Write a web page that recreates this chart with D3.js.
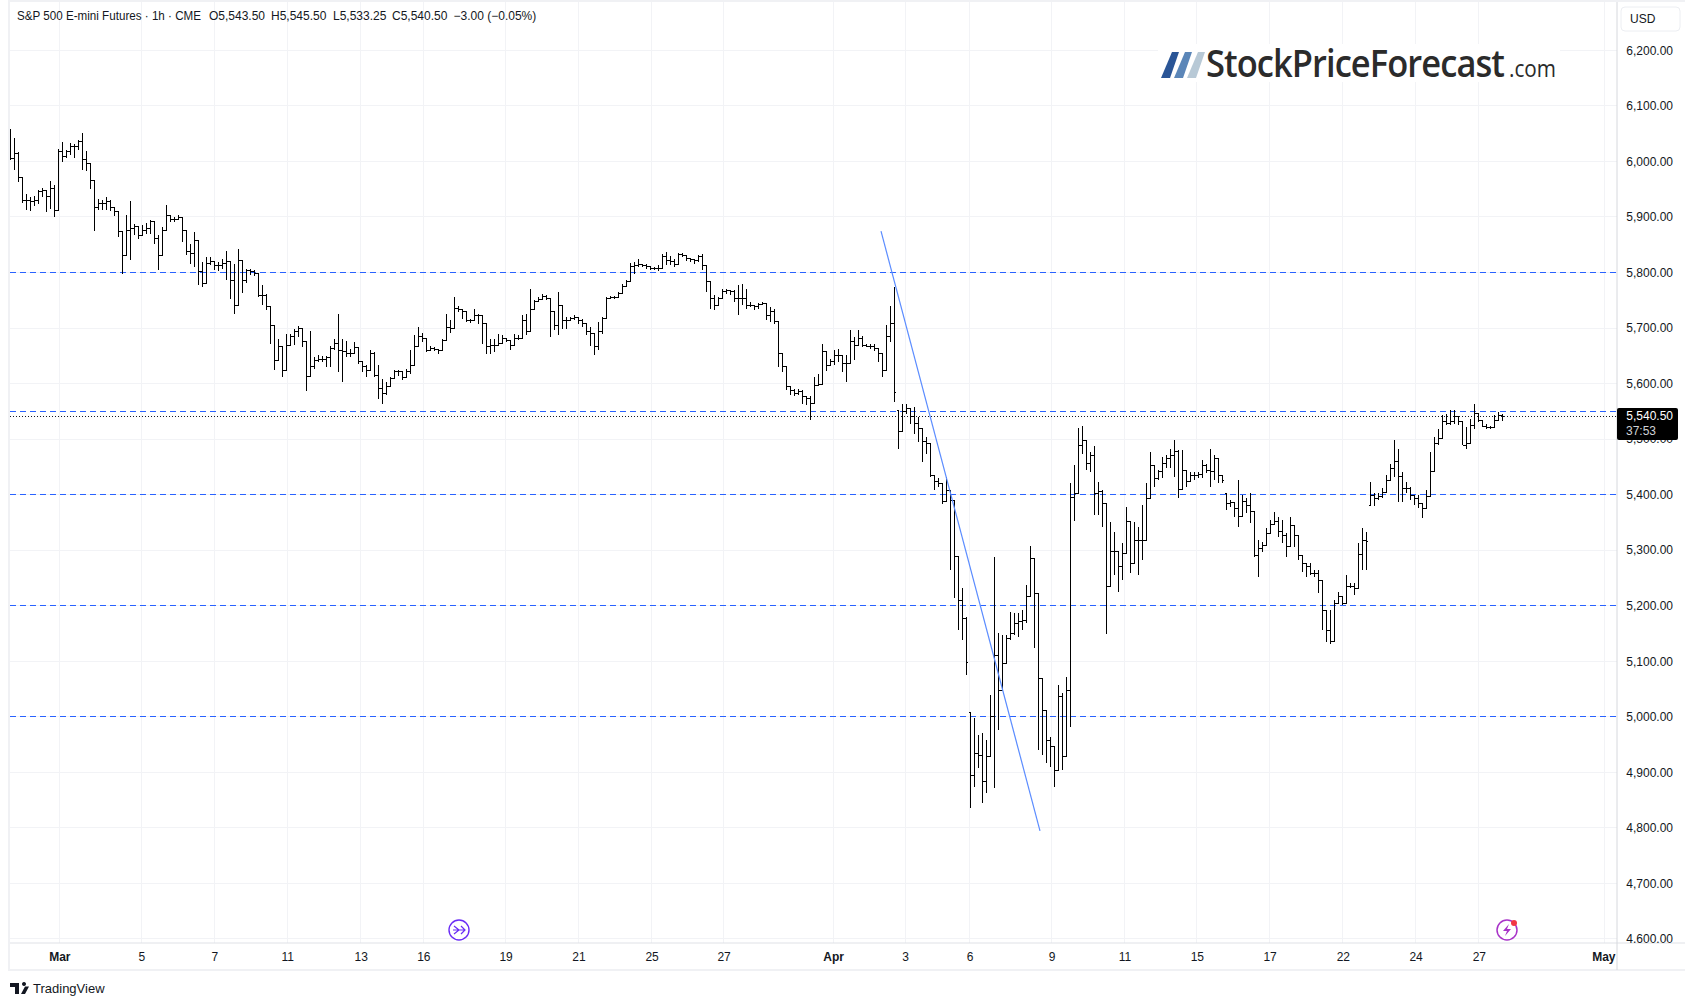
<!DOCTYPE html>
<html><head><meta charset="utf-8">
<script src="https://cdn.jsdelivr.net/npm/d3@7"></script>
<style>html,body{margin:0;padding:0;background:#fff}svg{display:block}text{font-family:"Liberation Sans",Arial,sans-serif}</style>
</head><body><svg id="c" width="1685" height="1002"></svg>
<script>
const highs=[6059,6043,6017,5971,5942,5935,5937,5949,5952,5945,5965,5957,6023,6035,6021,6033,6031,6039,6051,6019,5996,5935,5933,5931,5935,5931,5918,5889,5867,5903,5928,5888,5879,5885,5889,5895,5870,5867,5882,5921,5904,5900,5903,5899,5864,5851,5873,5821,5819,5827,5828,5819,5819,5825,5839,5819,5816,5843,5792,5807,5807,5805,5783,5777,5762,5732,5684,5681,5657,5690,5690,5699,5703,5687,5672,
5695,5648,5651,5649,5649,5667,5681,5726,5681,5677,5663,5675,5663,5637,5633,5660,5657,5633,5609,5603,5612,5624,5625,5618,5627,5660,5687,5702,5691,5667,5667,5665,5663,5681,5726,5715,5756,5739,5733,5720,5717,5735,5726,5723,5671,5681,5681,5690,5687,5681,5677,5690,5687,5723,5726,5771,5750,5756,5761,5759,5753,5711,5765,5726,5720,5720,5723,5720,5717,5702,5702,5687,5711,5720,
5756,5757,5757,5765,5780,5787,5817,5819,5825,5816,5815,5810,5810,5813,5834,5837,5829,5825,5835,5835,5828,5825,5825,5831,5834,5804,5768,5759,5756,5771,5771,5768,5768,5777,5780,5771,5747,5741,5745,5747,5732,5738,5735,5711,5636,5603,5595,5591,5591,5588,5577,5577,5612,5618,5672,5645,5645,5660,5663,5645,5651,5696,5684,5696,5685,5672,5672,5672,5663,5636,5705,5739,5773,
5552,5564,5564,5555,5558,5540,5513,5504,5480,5435,5429,5408,5431,5408,5323,5288,5231,5180,5008,4997,4967,4970,4958,5039,5288,5150,5147,5147,5189,5186,5186,5192,5237,5307,5228,5126,5036,4982,4964,4916,5057,5042,5072,5420,5454,5520,5523,5473,5477,5488,5423,5409,5338,
5351,5333,5276,5312,5378,5351,5351,5342,5381,5420,5477,5447,5444,5468,5471,5483,5498,5480,5480,5435,5441,5441,5441,5462,5456,5483,5471,5447,5426,5402,5391,5378,5426,5399,5393,5402,5363,5318,5315,5339,5354,5369,5360,5354,5330,5360,5333,5306,5291,5276,5276,5264,5264,5222,5177,5192,5210,5225,5213,5255,5240,5240,5312,5339,5333,
5423,5402,5402,5411,5435,5456,5499,5483,5441,5423,5414,5399,5399,5381,5408,5477,5504,5519,5543,5546,5552,5552,5537,5531,5522,5537,5563,5546,5528,5527,5523,5543,5549,5545.5];
const lows=[6002,5984,5963,5925,5912,5911,5919,5924,5935,5909,5915,5900,5954,5999,6007,6011,6007,6020,5984,5983,5951,5875,5912,5913,5912,5911,5901,5864,5798,5834,5822,5867,5861,5870,5870,5870,5852,5804,5851,5887,5891,5891,5894,5855,5831,5815,5810,5777,5774,5811,5813,5804,5803,5807,5786,5753,5726,5768,5763,5781,5795,5794,5756,5741,5732,5672,5624,5657,5612,5636,5672,5669,5684,5666,5587,
5627,5627,5639,5639,5630,5630,5660,5621,5603,5647,5648,5654,5636,5621,5612,5627,5611,5573,5564,5579,5600,5612,5613,5607,5611,5618,5648,5666,5675,5657,5659,5659,5653,5663,5684,5691,5729,5729,5717,5711,5709,5717,5708,5671,5653,5654,5657,5669,5677,5675,5660,5677,5678,5687,5687,5729,5738,5747,5751,5750,5684,5697,5687,5699,5699,5714,5714,5708,5702,5687,5667,5651,5660,5690,
5741,5753,5753,5756,5765,5777,5798,5798,5810,5809,5807,5805,5805,5803,5813,5813,5813,5810,5825,5828,5821,5819,5816,5819,5804,5765,5735,5732,5744,5759,5761,5759,5747,5723,5741,5735,5737,5732,5735,5741,5714,5711,5708,5630,5621,5588,5579,5577,5579,5564,5561,5535,5579,5595,5630,5623,5633,5633,5639,5621,5603,5666,5642,5669,5666,5665,5663,5659,5639,5612,5648,5675,5567,
5483,5534,5546,5528,5510,5495,5459,5474,5432,5408,5413,5383,5390,5264,5213,5156,5138,5075,4835,4874,4907,4844,4862,4958,4871,4976,5054,5117,5138,5147,5144,5156,5168,5219,5123,4940,4931,4916,4910,4874,4952,4904,4964,4982,5352,5480,5473,5445,5441,5363,5363,5342,5149,
5234,5255,5225,5246,5318,5258,5282,5255,5282,5375,5396,5414,5426,5429,5447,5447,5432,5393,5414,5414,5423,5426,5429,5429,5438,5414,5426,5420,5420,5372,5378,5360,5342,5360,5366,5348,5288,5252,5297,5324,5342,5345,5324,5312,5288,5312,5306,5282,5261,5252,5255,5252,5222,5156,5135,5131,5180,5207,5201,5210,5231,5219,5237,5264,5264,
5379,5379,5390,5393,5417,5429,5432,5387,5387,5402,5390,5381,5375,5357,5381,5408,5468,5489,5525,5525,5525,5528,5525,5489,5483,5513,5519,5531,5521,5519,5519,5531,5533,5533.25];
const closes=[6005,6014,5971,5930,5930,5927,5930,5945,5947,5936,5951,5912,6017,6008,6017,6027,6026,6035,6003,5996,5966,5917,5924,5924,5927,5917,5909,5873,5831,5876,5879,5882,5867,5876,5879,5891,5861,5831,5876,5903,5895,5895,5899,5876,5837,5834,5858,5801,5780,5817,5819,5813,5813,5816,5819,5786,5741,5822,5785,5803,5801,5799,5759,5759,5738,5705,5642,5666,5624,5669,5684,5693,5699,5675,5612,
5630,5642,5643,5643,5647,5663,5672,5660,5657,5654,5654,5665,5639,5630,5624,5654,5615,5591,5582,5594,5609,5621,5621,5611,5621,5633,5666,5684,5681,5660,5663,5661,5660,5678,5701,5699,5735,5733,5729,5714,5713,5723,5723,5708,5666,5669,5669,5672,5681,5678,5669,5681,5681,5714,5693,5733,5747,5751,5757,5753,5729,5705,5741,5714,5714,5717,5719,5714,5708,5693,5690,5667,5693,5718,
5753,5755,5755,5762,5774,5783,5810,5813,5815,5813,5811,5808,5808,5807,5828,5822,5819,5815,5832,5831,5825,5823,5821,5828,5813,5783,5753,5741,5753,5765,5767,5765,5753,5753,5753,5741,5741,5738,5743,5744,5723,5729,5711,5654,5630,5594,5588,5582,5585,5577,5573,5564,5597,5599,5657,5633,5639,5651,5651,5636,5636,5675,5669,5681,5669,5667,5666,5663,5654,5624,5684,5708,5584,
5513,5549,5555,5540,5528,5519,5495,5492,5435,5423,5420,5387,5408,5390,5288,5210,5177,5098,4895,4934,4931,4883,4928,5000,5111,5048,5096,5141,5150,5168,5171,5174,5216,5285,5222,5069,5012,4958,4946,4904,5036,4928,5048,5395,5402,5488,5498,5456,5470,5402,5406,5384,5235,
5297,5297,5270,5294,5351,5276,5318,5318,5318,5393,5453,5429,5441,5456,5465,5471,5477,5409,5444,5423,5435,5435,5437,5453,5444,5441,5465,5435,5425,5384,5385,5375,5360,5387,5381,5369,5291,5303,5309,5330,5347,5351,5333,5327,5306,5345,5327,5291,5276,5270,5258,5258,5246,5192,5156,5135,5204,5216,5204,5234,5234,5231,5293,5318,5315,
5399,5393,5396,5403,5426,5447,5459,5432,5411,5411,5399,5393,5384,5375,5396,5441,5492,5501,5531,5528,5531,5540,5531,5489,5492,5525,5546,5534,5523,5521,5520,5534,5543,5540.5];
const gapBars=[222,240,304,340];
const gapOpens=[5552,5008,5402,5381];
const priceTicks=[6200,6100,6000,5900,5800,5700,5600,5500,5400,5300,5200,5100,5000,4900,4800,4700,4600];
const levelLines=[5800,5550,5400,5200,5000];
const lastPrice=5540.5;
const dateTickBars=[12.33,32.83,51.08,69.33,87.67,103.33,123.9,142.1,160.4,178.4,205.8,223.8,239.9,260.4,278.6,296.7,314.9,333.2,351.4,367.2,398.5];
const dateTickLabels=["Mar","5","7","11","13","16","19","21","25","27","Apr","3","6","9","11","15","17","22","24","27","May"];
const monthLabels=["Mar","Apr","May"];
const trendBars=[217.75,257.5];
const trendPrices=[5874.5,4794.5];
const headerText="S&P 500 E-mini Futures · 1h · CME";
const ohlcParts=["O5,543.50","H5,545.50","L5,533.25","C5,540.50","−3.00 (−0.05%)"];

const svg=d3.select("#c");
const L=10,R=1617,T=2,B=943;
const x=d3.scaleLinear().domain([0,401.75]).range([L,R]);
const y=d3.scaleLinear().domain([5550,5400]).range([411.3,494.6]);
const fmt=d3.format(",.2f");
const defs=svg.append("defs");
defs.append("clipPath").attr("id","plot").append("rect").attr("x",L).attr("y",T).attr("width",R-L).attr("height",B-T);
defs.append("clipPath").attr("id","axisclip").append("rect").attr("x",R).attr("y",T).attr("width",68).attr("height",B-T);

// frame
svg.append("rect").attr("x",9).attr("y",1).attr("width",1680).attr("height",969).attr("fill","none").attr("stroke","#f0f1f4").attr("stroke-width",2);

// grid
const grid=svg.append("g").attr("stroke","#f2f3f6").attr("stroke-width",1).attr("shape-rendering","crispEdges");
grid.selectAll(".h").data(priceTicks).join("line").attr("x1",L).attr("x2",R).attr("y1",d=>y(d)).attr("y2",d=>y(d));
grid.selectAll(".v").data(dateTickBars).join("line").attr("x1",d=>x(d)).attr("x2",d=>x(d)).attr("y1",T).attr("y2",B);

// level lines
const plot=svg.append("g").attr("clip-path","url(#plot)");
plot.selectAll(".lv").data(levelLines).join("line").attr("x1",L).attr("x2",R).attr("y1",d=>y(d)).attr("y2",d=>y(d))
 .attr("stroke","#2962ff").attr("stroke-width",1).attr("stroke-dasharray","6 4").attr("shape-rendering","crispEdges");
plot.append("line").attr("x1",L).attr("x2",R).attr("y1",y(lastPrice)).attr("y2",y(lastPrice))
 .attr("stroke","#131722").attr("stroke-width",1).attr("stroke-dasharray","1 2").attr("shape-rendering","crispEdges");

// OHLC bars
const bars=highs.map((h,i)=>{
  const g=gapBars.indexOf(i);
  const o=i===0?closes[0]:(g>=0?gapOpens[g]:closes[i-1]);
  return {i,h:Math.max(h,o),l:Math.min(lows[i],o),c:closes[i],o,gap:g>=0};
});
const barPath=d=>{const X=x(d.i)+0.5;const back=d.gap||d.i===0?2:4;
  return `M${X},${y(d.h)}V${y(d.l)}M${X-back},${y(d.o)}H${X}M${X},${y(d.c)}H${X+1.5}`;};
plot.append("path").attr("d",bars.map(barPath).join("")).attr("fill","none").attr("stroke","#000").attr("stroke-width",1).attr("shape-rendering","crispEdges");

// trend line
plot.append("line").attr("x1",x(trendBars[0])).attr("y1",y(trendPrices[0])).attr("x2",x(trendBars[1])).attr("y2",y(trendPrices[1]))
 .attr("stroke","#5b8cff").attr("stroke-width",1.2);

// axis lines
svg.append("line").attr("x1",10).attr("x2",1685).attr("y1",943).attr("y2",943).attr("stroke","#dfe1e6").attr("stroke-width",1);
svg.append("line").attr("x1",R).attr("x2",R).attr("y1",2).attr("y2",970).attr("stroke","#d6d8dd").attr("stroke-width",1);

// y axis
const yAxis=d3.axisRight(y).tickValues(priceTicks).tickSize(0).tickPadding(0).tickFormat(fmt);
const yInner=svg.append("g").attr("clip-path","url(#axisclip)").append("g").attr("transform","translate(1673,0)").call(yAxis);
yInner.select(".domain").remove();
yInner.selectAll("text").attr("text-anchor","end").attr("fill","#131722").style("font-size","12px");

// x axis
const xAxis=d3.axisBottom(x).tickValues(dateTickBars).tickSize(0).tickPadding(0)
 .tickFormat((d,i)=>dateTickLabels[i]);
const xg=svg.append("g").attr("transform","translate(0,952)").call(xAxis);
xg.select(".domain").remove();
xg.selectAll("text").attr("fill","#131722").style("font-size","12px")
 .style("font-weight",function(){return monthLabels.includes(this.textContent)?"700":"400";});
xg.selectAll(".tick").filter((d,i)=>dateTickLabels[i]==="May").select("text").attr("text-anchor","end").attr("dx","11");

// header
svg.append("text").attr("x",17).attr("y",20).attr("fill","#131722").attr("textLength",184).attr("lengthAdjust","spacingAndGlyphs").style("font-size","12px").text(headerText);
const ohlcX=[209,271,333,392,453.5];
svg.selectAll(".ohlc").data(ohlcParts).join("text").attr("x",(d,i)=>ohlcX[i]).attr("y",20).attr("fill","#131722").style("font-size","12px").text(d=>d);

// USD box
svg.append("rect").attr("x",1621).attr("y",7).attr("width",59).attr("height",24).attr("rx",4).attr("fill","#fff").attr("stroke","#eceef2");
svg.append("text").attr("x",1630).attr("y",23).attr("fill","#131722").style("font-size","12px").text("USD");

// price tag
svg.append("rect").attr("x",R).attr("y",408).attr("width",61).attr("height",32).attr("rx",2).attr("fill","#000");
svg.append("text").attr("x",1673).attr("y",420).attr("text-anchor","end").attr("fill","#fff").style("font-size","12px").text(fmt(lastPrice));
svg.append("text").attr("x",1626).attr("y",435).attr("fill","#d0d2d6").style("font-size","12px").text("37:53");

// logo
svg.append("rect").attr("x",1158).attr("y",44).attr("width",402).attr("height",38).attr("fill","#fff");
const slashes=[["#2a5596",0],["#5b86b8",13],["#b8c9d6",26]];
svg.selectAll(".sl").data(slashes).join("path").attr("fill",d=>d[0])
 .attr("d",d=>`M${1161+d[1]},78L${1172+d[1]},52H${1179+d[1]}L${1170+d[1]},78Z`);
svg.append("text").attr("x",1206).attr("y",77).attr("fill","#2b2b2b").attr("textLength",298).attr("lengthAdjust","spacingAndGlyphs")
 .style("font-family","'Open Sans'").style("font-weight","600").style("font-size","37px").style("letter-spacing","-1px").text("StockPriceForecast");
svg.append("text").attr("x",1509).attr("y",77).attr("fill","#2b2b2b").attr("textLength",47).attr("lengthAdjust","spacingAndGlyphs")
 .style("font-family","'Open Sans'").style("font-weight","400").style("font-size","24px").text(".com");

// icons
const ic1=svg.append("g").attr("transform","translate(459,930)");
ic1.append("circle").attr("r",10).attr("fill","#fff").attr("stroke","#6a2cf5").attr("stroke-width",1.4);
ic1.append("path").attr("d","M-5,-4L0,0L-5,4M-6,0H6M2,-4L6,0L2,4").attr("fill","none").attr("stroke","#6a2cf5").attr("stroke-width",1.2);
const ic2=svg.append("g").attr("transform","translate(1507,930)");
ic2.append("circle").attr("r",10).attr("fill","#fff").attr("stroke","#a833c8").attr("stroke-width",1.5);
ic2.append("path").attr("d","M2,-6L-4,1H0L-2,6L4,-1H0Z").attr("fill","#a833c8");
ic2.append("circle").attr("cx",7).attr("cy",-7).attr("r",3).attr("fill","#f23645");

// footer
svg.append("path").attr("fill","#131722").attr("d","M10,983H19V994H15V987H10ZM24,986A2,2 0 1 1 24.01,986ZM21,994L25,986.5H29L25,994Z");
svg.append("text").attr("x",33).attr("y",993).attr("fill","#131722").style("font-size","13px").text("TradingView");
</script></body></html>
